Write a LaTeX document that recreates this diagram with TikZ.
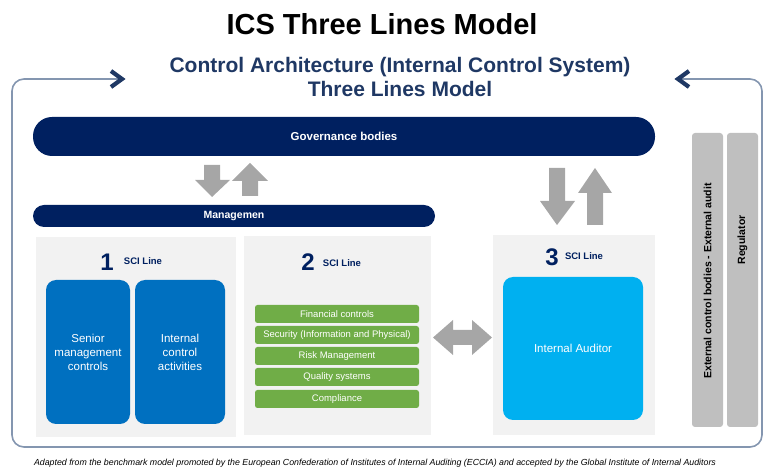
\documentclass[tikz,border=0pt]{standalone}
\usepackage{fontspec}
\setmainfont{Liberation Sans}
\definecolor{navy}{HTML}{002060}
\definecolor{subnavy}{HTML}{1F3864}
\definecolor{framecol}{HTML}{8496B0}
\definecolor{panelgray}{HTML}{F2F2F2}
\definecolor{midblue}{HTML}{0070C0}
\definecolor{skyblue}{HTML}{00B0F0}
\definecolor{leafgreen}{HTML}{70AD47}
\definecolor{arrowgray}{HTML}{A6A6A6}
\definecolor{bargray}{HTML}{BFBFBF}

\begin{document}
\begin{tikzpicture}[x=1pt,y=-1pt,
    box/.style={inner sep=0pt,outer sep=0pt,anchor=north west},
    bodybar/.style={box,fill=navy,text=white,font=\bfseries},
    panel/.style={box,fill=panelgray},
    lineno/.style={text=navy,font=\fontsize{24}{24}\selectfont\bfseries},
    linetag/.style={text=navy,font=\fontsize{9.5}{11}\selectfont\bfseries},
    ctrlbox/.style={box,rounded corners=10pt,text=white,align=center,
      font=\fontsize{11.5}{14}\selectfont},
    greenrow/.style={box,fill=leafgreen,rounded corners=2.5pt,text=white,
      minimum width=164,minimum height=18,font=\fontsize{9.5}{11}\selectfont},
    sidebar/.style={box,fill=bargray,rounded corners=3pt,minimum width=31,
      minimum height=294},
    blockarrow/.style={fill=arrowgray},
    frame/.style={draw=framecol,line width=1.6pt,rounded corners=12pt},
    chevron/.style={draw=subnavy,line width=4.2pt,miter limit=4}]
  \useasboundingbox (0,0) rectangle (764,470);

  % titles
  \node (title) at (382,24) {\fontsize{29}{34}\selectfont\bfseries ICS Three Lines Model};
  \node[text=subnavy,align=center,font=\fontsize{21}{24}\selectfont\bfseries]
    (subtitle) at (400,77) {Control Architecture (Internal Control System)\\Three Lines Model};

  % outer loop
  \coordinate (loopL) at (122,79);
  \coordinate (loopR) at (678,79);
  \draw[frame] (loopR) -- (762,79) -- (762,447) -- (12,447) -- (12,79) -- (loopL);
  \draw[chevron] (111,71) -- (loopL) -- (111,87);
  \draw[chevron] (689,71) -- (loopR) -- (689,87);

  % governance and management
  \node[bodybar,rounded corners=19pt,minimum width=622,minimum height=39,
    font=\fontsize{11.5}{13}\selectfont\bfseries] (gov) at (33,117) {Governance bodies};
  \node[bodybar,rounded corners=11pt,minimum width=402,minimum height=22,
    font=\fontsize{10.5}{12}\selectfont\bfseries] (mgmt) at (33,205) {Managemen};

  % up / down arrows
  \fill[blockarrow] (204,165) -- (220,165) -- (220,180) -- (230,180) -- (212,197)
    -- (195,180) -- (204,180) -- cycle;
  \fill[blockarrow] (250,163) -- (268,181) -- (258,181) -- (258,196) -- (242,196)
    -- (242,181) -- (232,181) -- cycle;
  \fill[blockarrow] (549,168) -- (565,168) -- (565,201) -- (575,201) -- (557,225)
    -- (540,201) -- (549,201) -- cycle;
  \fill[blockarrow] (595,168) -- (612,193) -- (603,193) -- (603,225) -- (587,225)
    -- (587,193) -- (578,193) -- cycle;

  % first line
  \node[panel,minimum width=200,minimum height=200] (p1) at (36,237) {};
  \node[lineno] (n1) at (107,262) {1};
  \node[linetag] (t1) at (143,261) {SCI Line};
  \node[ctrlbox,fill=midblue,minimum width=84,minimum height=144] (senior) at (46,280)
    {Senior\\management\\controls};
  \node[ctrlbox,fill=midblue,minimum width=90,minimum height=144] (internal) at (135,280)
    {Internal\\control\\activities};

  % second line
  \node[panel,minimum width=187,minimum height=199] (p2) at (244,236) {};
  \node[lineno] (n2) at (308,262) {2};
  \node[linetag] (t2) at (342,263) {SCI Line};
  \node[greenrow] (fin) at (255,305) {Financial controls};
  \node[greenrow] (sec) at (255,326) {Security (Information and Physical)};
  \node[greenrow] (risk) at (255,347) {Risk Management};
  \node[greenrow] (qual) at (255,368) {Quality systems};
  \node[greenrow] (comp) at (255,390) {Compliance};

  % link between second and third line
  \fill[blockarrow] (433,337.5) -- (453,320) -- (453,330) -- (472,330) -- (472,320)
    -- (492,337.5) -- (472,355) -- (472,345) -- (453,345) -- (453,355) -- cycle;

  % third line
  \node[panel,minimum width=162,minimum height=200] (p3) at (493,235) {};
  \node[lineno] (n3) at (552,257) {3};
  \node[linetag] (t3) at (584,256) {SCI Line};
  \node[ctrlbox,fill=skyblue,minimum width=140,minimum height=143] (auditor) at (503,277)
    {Internal Auditor};

  % external bodies
  \node[sidebar] (extbar) at (692,133) {};
  \node[sidebar] (regbar) at (727,133) {};
  \node[rotate=90,font=\fontsize{10.5}{12}\selectfont\bfseries] (extlabel)
    at (707.5,281) {External control bodies - External audit};
  \node[rotate=90,font=\fontsize{10.5}{12}\selectfont\bfseries] (reglabel)
    at (742.5,240) {Regulator};

  % source
  \node (note) at (375,463) {\fontsize{8.8}{10}\selectfont\itshape Adapted from the benchmark model promoted by the European Confederation of Institutes of Internal Auditing (ECCIA) and accepted by the Global Institute of Internal Auditors};
\end{tikzpicture}
\end{document}
